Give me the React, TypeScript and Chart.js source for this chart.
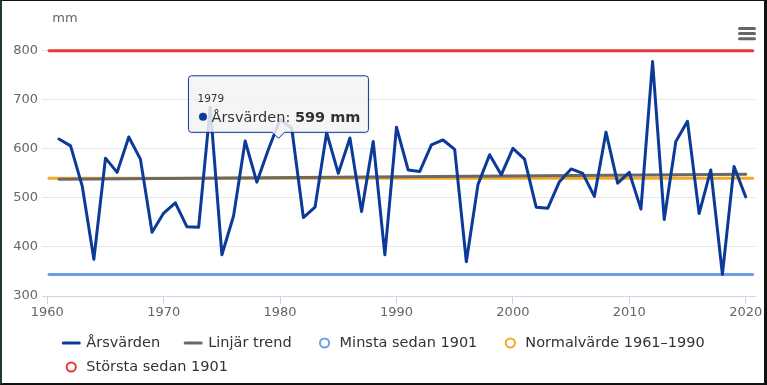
import React, { useEffect, useRef } from "react";
import { Chart, registerables } from "chart.js";

Chart.register(...registerables);

// ---------- data ----------
const YEARS = [
  1961, 1962, 1963, 1964, 1965, 1966, 1967, 1968, 1969, 1970,
  1971, 1972, 1973, 1974, 1975, 1976, 1977, 1978, 1979, 1980,
  1981, 1982, 1983, 1984, 1985, 1986, 1987, 1988, 1989, 1990,
  1991, 1992, 1993, 1994, 1995, 1996, 1997, 1998, 1999, 2000,
  2001, 2002, 2003, 2004, 2005, 2006, 2007, 2008, 2009, 2010,
  2011, 2012, 2013, 2014, 2015, 2016, 2017, 2018, 2019, 2020,
];
const ANNUAL_MM = [
  620, 606, 524, 375, 581, 552, 624, 579, 430, 469,
  490, 441, 440, 685, 384, 463, 616, 532, 599, 660,
  642, 460, 481, 633, 550, 622, 472, 615, 384, 644,
  557, 554, 608, 618, 599, 370, 527, 588, 547, 601,
  579, 481, 479, 533, 559, 550, 503, 634, 530, 552,
  477, 778, 456, 615, 656, 468, 557, 344, 564, 502,
];
const TREND_YEARS = [1961, 2020];
const TREND_MM = [538, 548];
const REF_SPAN_YEARS = [1960.15, 2020.6];
const MIN_SINCE_1901 = 344;
const NORMAL_1961_1990 = 540;
const MAX_SINCE_1901 = 800;

const X_TICKS = [1960, 1970, 1980, 1990, 2000, 2010, 2020];
const Y_TICKS = [300, 400, 500, 600, 700, 800];
const X_MIN = 1959.545;
const X_MAX = 2020.8;

const SERIES_NAMES = [
  "Årsvärden",
  "Linjär trend",
  "Minsta sedan 1901",
  "Normalvärde 1961–1990",
  "Största sedan 1901",
];
const SERIES_COLORS = ["#0b3a98", "#696969", "#6d9eeb", "#f6a821", "#e83a3a"];
const LEGEND_SYMBOLS = ["line", "line", "circle", "circle", "circle"];

const UNIT = "mm";
const TOOLTIP_YEAR = 1979;

const FONT = '"DejaVu Sans", Verdana, sans-serif';

// ---------- plugins ----------
const overlayPlugin = {
  id: "overlay",
  afterDatasetsDraw(chart: any) {
    // tooltip for one hovered point
    const idx = YEARS.indexOf(TOOLTIP_YEAR);
    const meta = chart.getDatasetMeta(0);
    const pt = meta.data[idx];
    if (!pt) return;
    const ctx = chart.ctx;
    const ax = pt.x + 10;
    const ay = pt.y;
    const title = String(TOOLTIP_YEAR);
    const name = SERIES_NAMES[0] + ": ";
    const val = ANNUAL_MM[idx] + " " + UNIT;
    ctx.save();
    ctx.font = "10.5px " + FONT;
    const tW = ctx.measureText(title).width;
    ctx.font = "14.5px " + FONT;
    const nW = ctx.measureText(name).width;
    ctx.font = "bold 14.5px " + FONT;
    const vW = ctx.measureText(val).width;
    const contentW = Math.max(tW, 14 + nW + vW);
    const w = 9 + contentW + 8;
    const h = 56.5;
    const left = ax - w / 2;
    const top = ay - 17 - h;
    const r = 3;
    const bottom = top + h;
    const right = left + w;
    ctx.beginPath();
    ctx.moveTo(left + r, top);
    ctx.lineTo(right - r, top);
    ctx.arcTo(right, top, right, top + r, r);
    ctx.lineTo(right, bottom - r);
    ctx.arcTo(right, bottom, right - r, bottom, r);
    ctx.lineTo(ax + 6, bottom);
    ctx.lineTo(ax, bottom + 6);
    ctx.lineTo(ax - 6, bottom);
    ctx.lineTo(left + r, bottom);
    ctx.arcTo(left, bottom, left, bottom - r, r);
    ctx.lineTo(left, top + r);
    ctx.arcTo(left, top, left + r, top, r);
    ctx.closePath();
    ctx.shadowColor = "rgba(0,0,0,0.12)";
    ctx.shadowOffsetX = 1;
    ctx.shadowOffsetY = 1;
    ctx.shadowBlur = 3;
    ctx.fillStyle = "rgba(247,247,247,0.85)";
    ctx.fill();
    ctx.shadowColor = "transparent";
    ctx.lineWidth = 1;
    ctx.strokeStyle = SERIES_COLORS[0];
    ctx.stroke();

    ctx.fillStyle = "#333333";
    ctx.textBaseline = "alphabetic";
    ctx.textAlign = "left";
    ctx.font = "10.5px " + FONT;
    ctx.fillText(title, left + 9, top + 26);
    ctx.beginPath();
    ctx.arc(left + 14.5, top + 41, 4, 0, Math.PI * 2);
    ctx.fillStyle = SERIES_COLORS[0];
    ctx.fill();
    ctx.fillStyle = "#333333";
    ctx.font = "14.5px " + FONT;
    ctx.fillText(name, left + 23, top + 46);
    ctx.font = "bold 14.5px " + FONT;
    ctx.fillText(val, left + 23 + nW, top + 46);
    ctx.restore();
  },
  afterDraw(chart: any) {
    const ctx = chart.ctx;
    const W = chart.width;
    ctx.save();
    // axis title
    ctx.fillStyle = "#666666";
    ctx.font = "13px " + FONT;
    ctx.textAlign = "center";
    ctx.textBaseline = "middle";
    ctx.fillText(UNIT, 65, 19);

    // context menu icon
    ctx.strokeStyle = "#666666";
    ctx.lineWidth = 3;
    ctx.lineCap = "round";
    [28.5, 33.5, 38.8].forEach((y) => {
      ctx.beginPath();
      ctx.moveTo(739.5, y);
      ctx.lineTo(754.5, y);
      ctx.stroke();
    });

    // legend
    ctx.font = "14.5px " + FONT;
    const items = chart.data.datasets.map((ds: any, i: number) => ({
      label: ds.label,
      color: ds.borderColor,
      symbol: LEGEND_SYMBOLS[i],
      width: 24 + ctx.measureText(ds.label).width,
    }));
    const gap = 24;
    const maxW = W - 60;
    const rows: any[][] = [[]];
    let rowW = 0;
    items.forEach((it: any) => {
      const add = (rows[rows.length - 1].length ? gap : 0) + it.width;
      if (rows[rows.length - 1].length && rowW + add > maxW) {
        rows.push([it]);
        rowW = it.width;
      } else {
        rows[rows.length - 1].push(it);
        rowW += add;
      }
    });
    const widths = rows.map((row) =>
      row.reduce((s: number, it: any, k: number) => s + it.width + (k ? gap : 0), 0)
    );
    const blockW = Math.max(...widths);
    const x0 = (W - blockW) / 2;
    const rowY = [343, 367];
    ctx.textAlign = "left";
    ctx.textBaseline = "middle";
    rows.forEach((row, ri) => {
      let x = x0;
      const y = rowY[ri] ?? 343 + ri * 24;
      row.forEach((it: any) => {
        if (it.symbol === "line") {
          ctx.strokeStyle = it.color;
          ctx.lineWidth = 3;
          ctx.lineCap = "round";
          ctx.beginPath();
          ctx.moveTo(x + 1, y);
          ctx.lineTo(x + 17, y);
          ctx.stroke();
        } else {
          ctx.beginPath();
          ctx.arc(x + 9, y, 4.6, 0, Math.PI * 2);
          ctx.fillStyle = "#ffffff";
          ctx.fill();
          ctx.lineWidth = 2;
          ctx.strokeStyle = it.color;
          ctx.stroke();
        }
        ctx.fillStyle = "#333333";
        ctx.fillText(it.label, x + 24, y);
        x += it.width + gap;
      });
    });
    ctx.restore();
  },
};

export default function App() {
  const ref = useRef<HTMLCanvasElement | null>(null);

  useEffect(() => {
    if (!ref.current) return;
    const lineStyle = {
      pointRadius: 0,
      pointHoverRadius: 0,
      borderWidth: 3,
      borderCapStyle: "round",
      borderJoinStyle: "round",
      tension: 0,
      fill: false,
      clip: false,
    };
    const chart = new Chart(ref.current, {
      type: "line",
      data: {
        datasets: [
          {
            ...lineStyle,
            label: SERIES_NAMES[0],
            borderColor: SERIES_COLORS[0],
            backgroundColor: SERIES_COLORS[0],
            data: YEARS.map((y, i) => ({ x: y, y: ANNUAL_MM[i] })),
          },
          {
            ...lineStyle,
            label: SERIES_NAMES[1],
            borderColor: SERIES_COLORS[1],
            backgroundColor: SERIES_COLORS[1],
            data: TREND_YEARS.map((y, i) => ({ x: y, y: TREND_MM[i] })),
          },
          {
            ...lineStyle,
            label: SERIES_NAMES[2],
            borderColor: SERIES_COLORS[2],
            backgroundColor: SERIES_COLORS[2],
            data: REF_SPAN_YEARS.map((y) => ({ x: y, y: MIN_SINCE_1901 })),
          },
          {
            ...lineStyle,
            label: SERIES_NAMES[3],
            borderColor: SERIES_COLORS[3],
            backgroundColor: SERIES_COLORS[3],
            data: REF_SPAN_YEARS.map((y) => ({ x: y, y: NORMAL_1961_1990 })),
          },
          {
            ...lineStyle,
            label: SERIES_NAMES[4],
            borderColor: SERIES_COLORS[4],
            backgroundColor: SERIES_COLORS[4],
            data: REF_SPAN_YEARS.map((y) => ({ x: y, y: MAX_SINCE_1901 })),
          },
        ] as any,
      },
      options: {
        animation: false,
        responsive: false,
        devicePixelRatio: 1,
        layout: { padding: { top: 50.7, right: 12, bottom: 0, left: 0 } },
        plugins: {
          legend: { display: false },
          tooltip: { enabled: false },
          title: { display: false },
        },
        events: [],
        scales: {
          x: {
            type: "linear",
            min: X_MIN,
            max: X_MAX,
            afterBuildTicks: (s: any) => {
              s.ticks = X_TICKS.map((v) => ({ value: v }));
            },
            afterFit: (s: any) => {
              s.height = 89;
            },
            grid: {
              display: true,
              drawOnChartArea: false,
              drawTicks: true,
              tickLength: 8,
              color: "#ccd6eb",
            },
            border: { display: true, color: "#ccd6eb", width: 1 },
            ticks: {
              autoSkip: false,
              maxRotation: 0,
              padding: 1,
              color: "#666666",
              font: { family: FONT, size: 13 },
              callback: (v: any) => String(v),
            },
          },
          y: {
            type: "linear",
            min: 300,
            max: 800,
            afterBuildTicks: (s: any) => {
              s.ticks = Y_TICKS.map((v) => ({ value: v }));
            },
            afterFit: (s: any) => {
              s.width = 42;
            },
            grid: { color: "#e6e6e6", drawTicks: false, lineWidth: 1 },
            border: { display: false },
            ticks: {
              padding: 4,
              color: "#666666",
              font: { family: FONT, size: 13 },
              callback: (v: any) => String(v),
            },
          },
        },
      } as any,
      plugins: [overlayPlugin],
    });
    return () => chart.destroy();
  }, []);

  return (
    <div style={{ position: "relative", width: 767, height: 385, background: "#fff" }}>
      <style>{`body{margin:0;}`}</style>
      <canvas ref={ref} width={767} height={385} style={{ display: "block" }} />
      <div
        style={{
          position: "absolute",
          inset: 0,
          boxSizing: "border-box",
          borderTop: "1px solid #111",
          borderLeft: "2px solid #1d3b3b",
          borderRight: "3px solid #111",
          borderBottom: "2px solid #111",
          pointerEvents: "none",
        }}
      />
    </div>
  );
}
